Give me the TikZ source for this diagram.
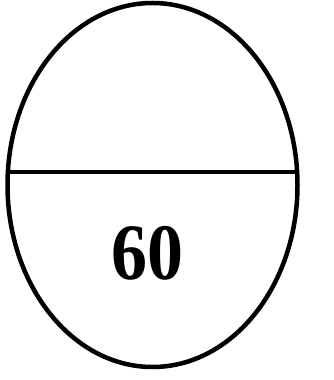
\documentclass[tikz,border=0pt]{standalone}
\usepackage{fontspec}
\setmainfont{Liberation Serif}
\usetikzlibrary{shapes.geometric}
\tikzset{
  outline/.style={draw=black, line width=4.5pt},
  label60/.style={font=\bfseries\fontsize{80}{96}\selectfont, inner sep=0pt, xscale=0.9}
}
\begin{document}
\begin{tikzpicture}[x=1pt,y=1pt]
  \useasboundingbox (0,0) rectangle (333,380);
  \fill[white] (0,0) rectangle (333,380);
  \node[ellipse, minimum width=290pt, minimum height=364pt, inner sep=0pt] (egg) at (152.5,195) {};
  \begin{scope}
    \clip (152.5,195) ellipse [x radius=145, y radius=182];
    \coordinate (lineL) at (0,208);
    \coordinate (lineR) at (333,208);
    \draw[outline] (lineL) -- (lineR);
  \end{scope}
  \draw[outline] (152.5,195) ellipse [x radius=145, y radius=182];
  \node[label60] (num) at (147,127) {60};
\end{tikzpicture}
\end{document}
